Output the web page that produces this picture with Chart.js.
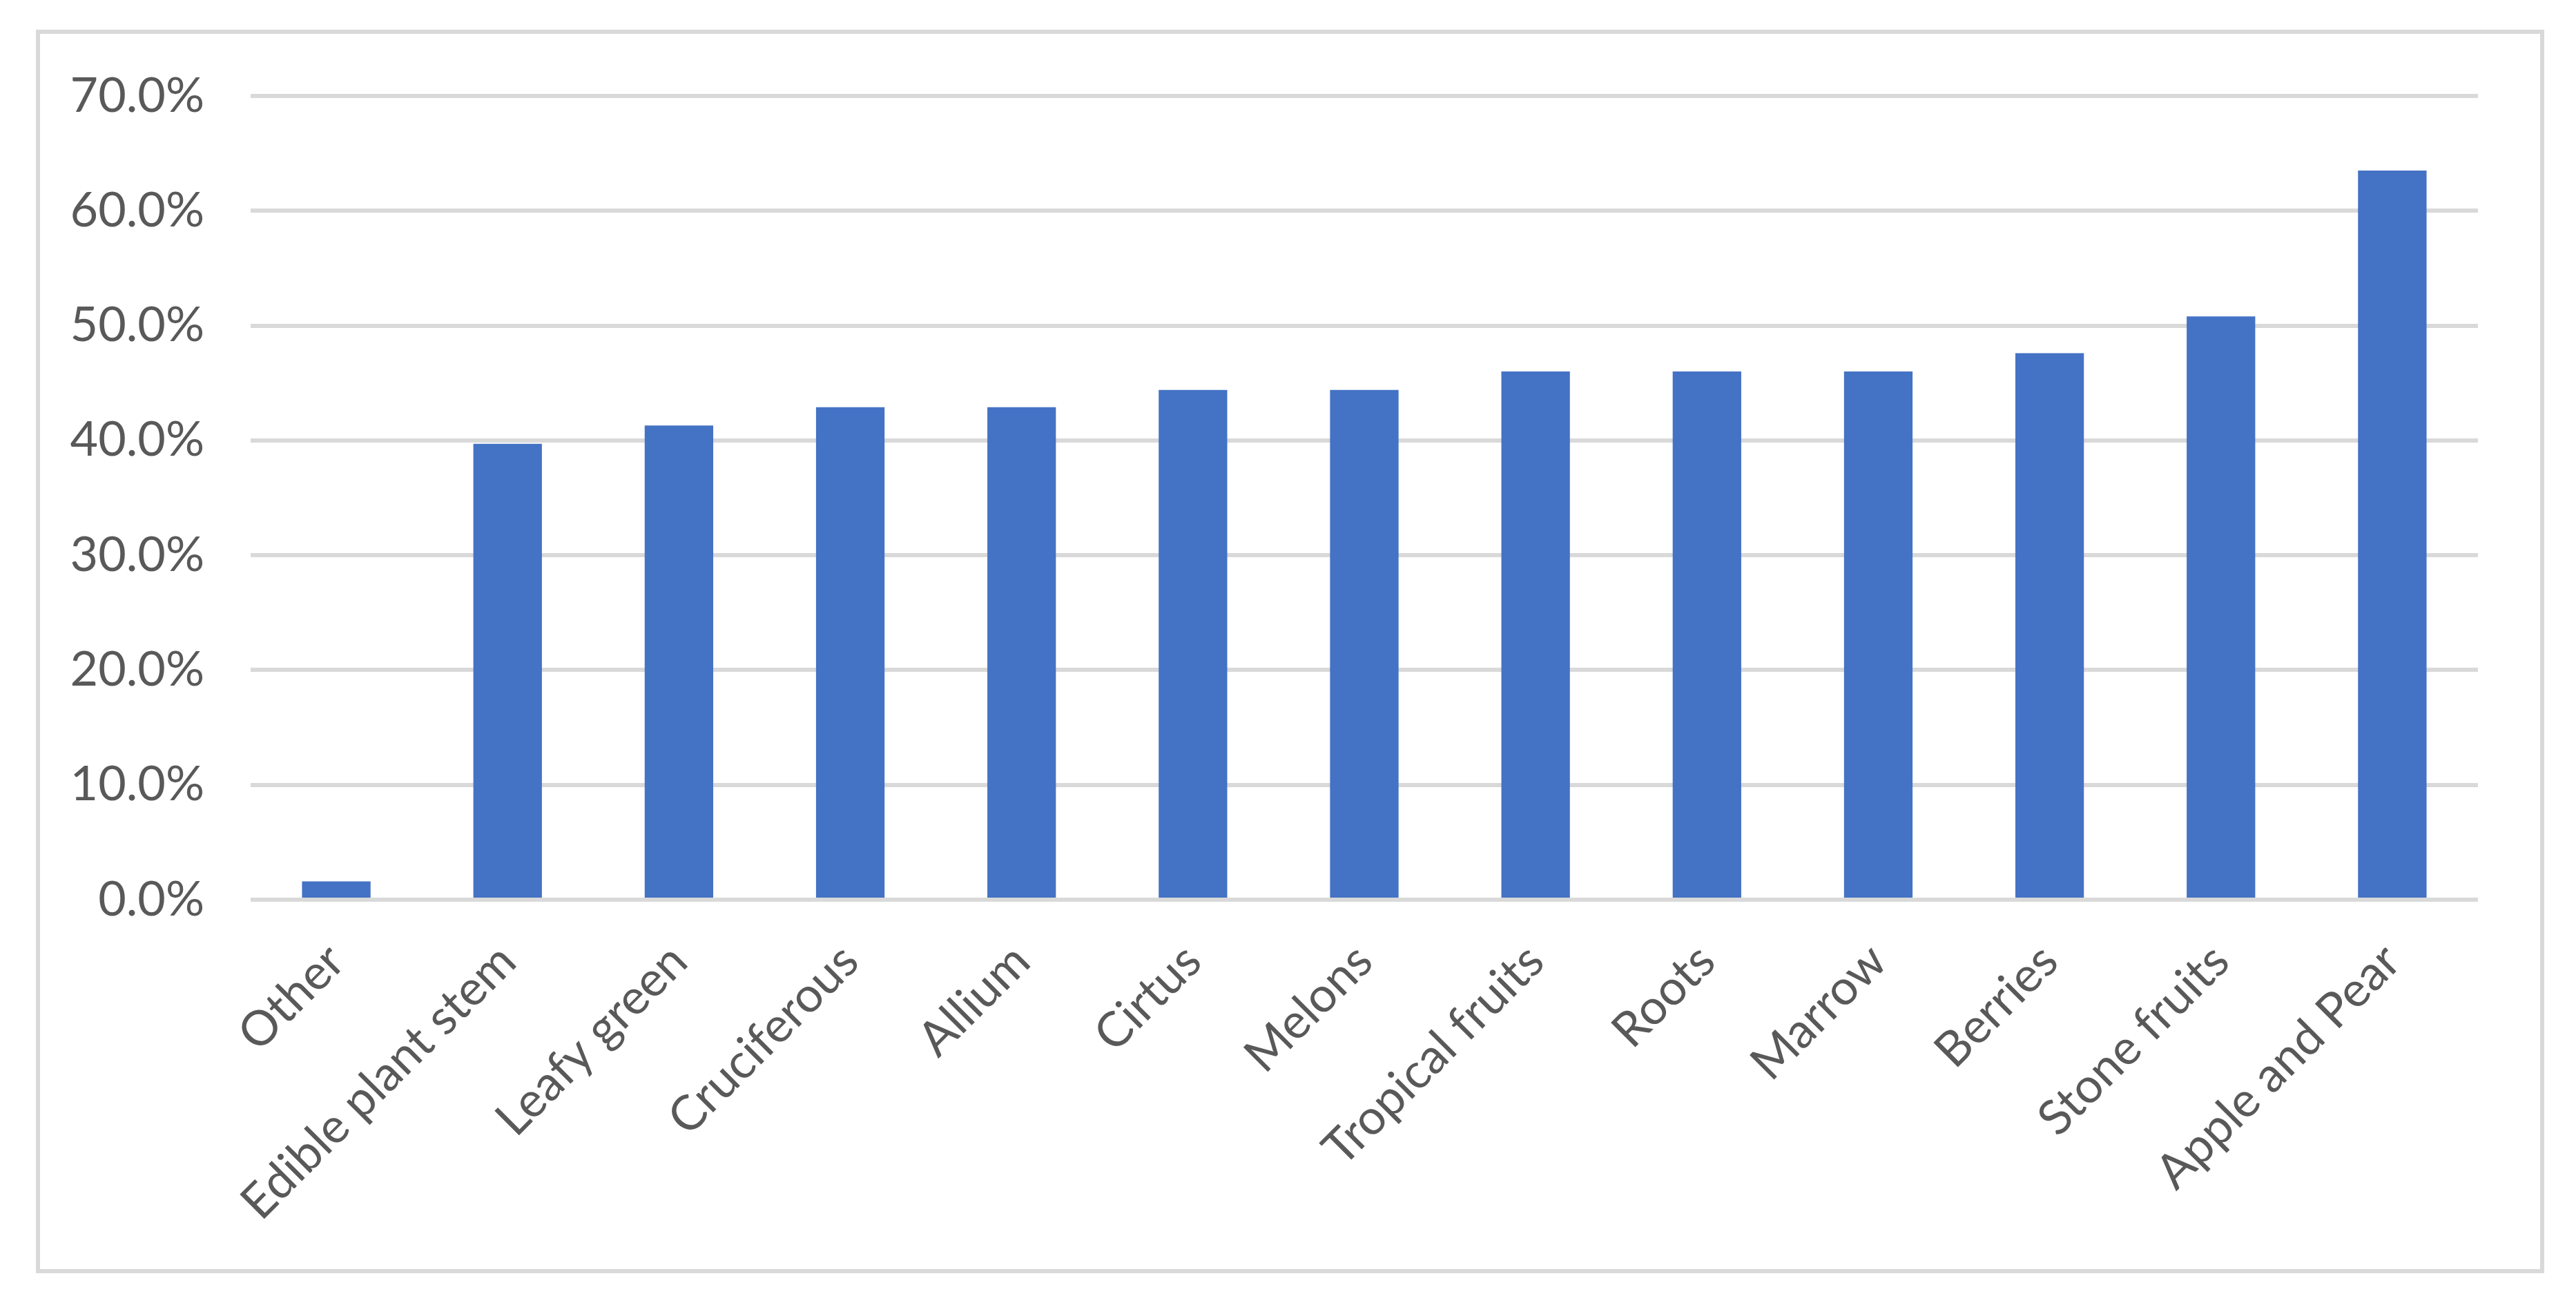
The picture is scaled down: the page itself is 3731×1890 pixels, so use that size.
<!DOCTYPE html>
<html>
<head>
<meta charset="utf-8">
<script src="https://cdn.jsdelivr.net/npm/chart.js@4"></script>
<style>
  html, body { margin: 0; padding: 0; background: #fff; }
  body { width: 3731px; height: 1890px; position: relative; overflow: hidden; }
  #frame {
    position: absolute; left: 52px; top: 43px;
    width: 3633px; height: 1801px;
    box-sizing: border-box; border: 6px solid #d9d9d9;
  }
  #chart { display: block; position: absolute; left: 0; top: -19px; }
</style>
</head>
<body>
<div id="frame"><canvas id="chart" width="3621" height="1808"></canvas></div>
<script>
const categorias = ["Other", "Edible plant stem", "Leafy green", "Cruciferous", "Allium",
  "Cirtus", "Melons", "Tropical fruits", "Roots", "Marrow", "Berries", "Stone fruits", "Apple and Pear"];
const porcentajes = [1.6, 39.7, 41.3, 42.9, 42.9, 44.4, 44.4, 46.0, 46.0, 46.0, 47.6, 50.8, 63.5];
const ejeMin = 0;
const ejeMax = 70;
const ejePaso = 10;

const textoGris = "#595959";
const fuente = { family: "Lato, 'Open Sans', sans-serif", size: 70 };

const ctx = document.getElementById("chart").getContext("2d");
new Chart(ctx, {
  type: "bar",
  data: {
    labels: categorias,
    datasets: [{
      data: porcentajes,
      backgroundColor: "#4472c4",
      barPercentage: 0.4,
      categoryPercentage: 1.0
    }]
  },
  options: {
    responsive: false,
    animation: false,
    layout: { padding: { top: 69, right: 90, left: 0, bottom: 0 } },
    plugins: {
      legend: { display: false },
      tooltip: { enabled: false }
    },
    scales: {
      x: {
        grid: { display: false },
        border: { display: false },
        ticks: {
          color: textoGris,
          font: fuente,
          minRotation: 45,
          maxRotation: 45,
          padding: 40,
          autoSkip: false
        },
        afterFit: scale => { scale.height = 535; }
      },
      y: {
        min: ejeMin,
        max: ejeMax,
        border: { display: false },
        grid: { color: "#d9d9d9", lineWidth: 6, drawTicks: false },
        ticks: {
          stepSize: ejePaso,
          color: textoGris,
          font: fuente,
          padding: 67,
          callback: v => v.toFixed(1) + "%"
        },
        afterFit: scale => { scale.width = 305; }
      }
    }
  }
});
</script>
</body>
</html>
